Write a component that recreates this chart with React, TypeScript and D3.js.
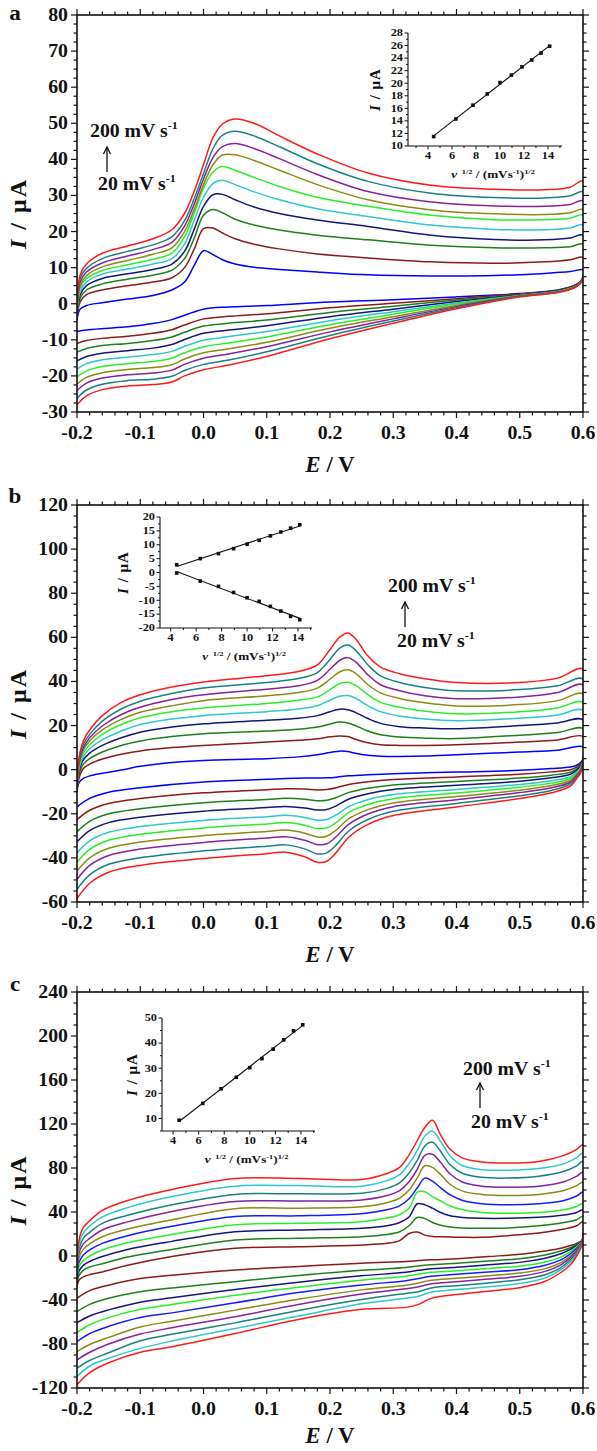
import React from "react";
import * as d3 from "d3";

// ---------- shared tick labels ----------
const X_TICKS = [-0.2, -0.1, 0, 0.1, 0.2, 0.3, 0.4, 0.5, 0.6];
const X_TICK_LABELS = ["-0.2", "-0.1", "0.0", "0.1", "0.2", "0.3", "0.4", "0.5", "0.6"];
const A_Y_TICKS = [-30, -20, -10, 0, 10, 20, 30, 40, 50, 60, 70, 80];
const B_Y_TICKS = [-60, -40, -20, 0, 20, 40, 60, 80, 100, 120];
const C_Y_TICKS = [-120, -80, -40, 0, 40, 80, 120, 160, 200, 240];

// scan-rate colours, 20 -> 200 mV/s
const COLORS_AB = ["#0000ff", "#8b1a1a", "#1f7f1f", "#14147a", "#2ec8c8", "#2aee2a", "#8a8a14", "#86229a", "#1a8080", "#ff1a1a"];
const COLORS_C = ["#8b1a1a", "#1f7f1f", "#14147a", "#2aee2a", "#1a1aff", "#8a8a14", "#86229a", "#1a8080", "#2ec8c8", "#ff1a1a"];

// ---------- panel a ----------
const A_UP_E = [-0.2, -0.195, -0.185, -0.16, -0.12, -0.08, -0.05, -0.03, -0.015, 0.0, 0.015, 0.03, 0.05, 0.08, 0.12, 0.18, 0.26, 0.36, 0.46, 0.54, 0.58, 0.6];
const A_UP = [
  [-4.5, -1.5, -0.5, 0.3, 1.3, 2.3, 3.8, 6, 10.5, 14.7, 13.6, 12.2, 11, 10.1, 9.5, 8.8, 8, 7.7, 7.8, 8.4, 8.9, 9.4],
  [-4.5, 0.5, 2.5, 3.8, 5, 6, 7.2, 10, 15, 20.8, 21, 19.6, 18, 16.5, 15.2, 13.8, 12.7, 11.6, 11.2, 11.6, 12.2, 12.8],
  [-4.5, 1.5, 3.8, 5.5, 6.8, 7.9, 9.3, 12.5, 18, 24.5, 26.1, 25.2, 23.4, 21.8, 20.4, 19, 17.7, 16.2, 15.5, 15.5, 15.8, 16.5],
  [-4.5, 2.5, 5, 7, 8.3, 9.5, 11, 14.5, 20.5, 27, 30.2, 30.3, 28.8, 26.8, 25, 23.2, 21.4, 19, 17.8, 17.7, 18.2, 19],
  [-4, 3.5, 6, 8.2, 9.6, 11, 12.5, 16.5, 23, 29.5, 33.3, 34.2, 33, 31, 28.8, 26.3, 24.2, 21.8, 20.6, 20.5, 21, 21.8],
  [-4, 4.5, 7, 9.2, 10.8, 12.3, 14, 18.5, 25, 32, 36.5, 38, 37, 35, 32.5, 29.5, 27, 24.5, 23.3, 23.3, 23.7, 24.5],
  [-4, 5, 7.8, 10.2, 12, 13.7, 15.5, 20, 26, 33, 38.5, 41.2, 41.3, 39.7, 37, 33, 28.8, 26, 24.9, 24.7, 25.2, 26],
  [-3.5, 6, 8.8, 11.3, 13.2, 15, 17, 21.5, 27.5, 34.5, 40.5, 43.5, 44.4, 43, 40.2, 35.8, 31.1, 28.2, 27.1, 27, 27.5, 28.5],
  [-3.5, 7, 9.8, 12.5, 14.5, 16.3, 18.5, 23, 29, 36, 43, 46.7, 47.8, 46.5, 43.5, 38.8, 33.9, 30.6, 29.4, 29.3, 29.9, 31],
  [-3, 8, 11, 14, 16, 18, 20.5, 25, 31, 38.5, 46, 49.8, 51.2, 50, 46.5, 41.5, 36.2, 32.8, 31.7, 31.6, 32.3, 34],
];
const A_LO_E = [0.6, 0.595, 0.585, 0.56, 0.5, 0.4, 0.3, 0.2, 0.1, 0.04, 0.0, -0.03, -0.05, -0.08, -0.12, -0.16, -0.185, -0.2];
const A_LO = [
  [7.5, 6, 5, 3.8, 2.8, 1.9, 1.1, 0.5, -0.5, -0.9, -1.5, -3.2, -4.4, -5.5, -6.4, -6.9, -7.3, -7.7],
  [7.4, 5.9, 4.9, 3.7, 2.7, 1.4, 0.1, -1.1, -2.8, -3.5, -4.2, -5.9, -7.2, -8.2, -9.0, -9.6, -10.2, -11.0],
  [7.4, 5.9, 4.8, 3.6, 2.5, 1.0, -0.7, -2.4, -4.5, -5.4, -6.2, -7.9, -9.2, -10.2, -11.0, -11.6, -12.4, -13.4],
  [7.3, 5.8, 4.7, 3.5, 2.4, 0.6, -1.5, -3.6, -6.1, -7.3, -8.2, -9.9, -11.3, -12.3, -13.0, -13.7, -14.6, -15.8],
  [7.2, 5.7, 4.6, 3.4, 2.3, 0.2, -2.2, -4.7, -7.7, -9.1, -10.1, -11.8, -13.2, -14.1, -14.8, -15.5, -16.6, -18.1],
  [7.2, 5.7, 4.6, 3.4, 2.2, -0.1, -2.9, -5.8, -9.2, -10.9, -11.9, -13.6, -15.1, -16.0, -16.6, -17.4, -18.6, -20.3],
  [7.1, 5.6, 4.5, 3.3, 2.2, -0.5, -3.6, -6.8, -10.7, -12.5, -13.6, -15.3, -16.9, -17.7, -18.2, -19.1, -20.4, -22.3],
  [7.1, 5.6, 4.4, 3.2, 2.1, -0.8, -4.2, -7.8, -11.9, -13.9, -15.1, -16.8, -18.4, -19.2, -19.7, -20.6, -22.0, -24.1],
  [7.0, 5.5, 4.4, 3.2, 2.0, -1.1, -4.8, -8.8, -13.3, -15.6, -16.8, -18.5, -20.1, -20.9, -21.3, -22.3, -23.9, -26.2],
  [7.0, 5.5, 4.3, 3.1, 1.9, -1.4, -5.4, -9.7, -14.6, -17.0, -18.3, -20.0, -21.7, -22.4, -22.8, -23.8, -25.5, -28.0],
];

// ---------- panel b ----------
const B_UP_E = [-0.2, -0.197, -0.19, -0.18, -0.16, -0.13, -0.1, -0.05, 0, 0.1, 0.15, 0.18, 0.2, 0.215, 0.228, 0.24, 0.26, 0.28, 0.31, 0.35, 0.4, 0.5, 0.56, 0.6];
const B_UP = [
  [-10, -6, -4, -2.8, -1.6, -0.2, 1.5, 3.3, 4.2, 5, 5.8, 6.8, 7.8, 8.4, 8.2, 7.4, 6.5, 6.1, 6, 6.2, 6.8, 8, 8.8, 10.3],
  [-10, -4, 0.5, 2.5, 4.8, 7, 8.5, 10, 11, 12.5, 13.3, 14, 14.9, 15.3, 15, 13.8, 12.2, 11.3, 11, 11, 11.3, 12.5, 13.5, 15],
  [-10, -2.5, 2.5, 5, 8, 11, 13, 15, 16.3, 17.5, 18.3, 19.3, 20.7, 21.6, 21.2, 20, 17.5, 15.8, 14.8, 14.3, 14.1, 15.6, 16.8, 18.6],
  [-10, -1, 4.5, 7.5, 11, 14.5, 17, 19.3, 20.8, 22.4, 23.3, 24.5, 26.3, 27.4, 27.2, 26, 23.2, 21, 19.5, 18.9, 18.6, 20, 21.2, 22.6],
  [-10, 0, 6, 9.5, 13.5, 17.5, 20.5, 23, 24.5, 26.3, 27.5, 29, 31.5, 33.3, 33.6, 32.5, 29, 26.3, 24.3, 23, 22.2, 23.3, 24.8, 26.8],
  [-10, 1, 7.5, 11.3, 16, 20.5, 23.5, 26.3, 28, 30, 31.5, 33, 36.3, 39, 39.6, 38.3, 34, 30.5, 28.3, 26.5, 25.3, 26.3, 28, 30.5],
  [-10, 2, 9, 13, 18, 22.8, 26, 29, 31.3, 33.5, 35, 37, 41, 44.3, 45.3, 43.8, 38.5, 34.8, 32.3, 30.3, 28.9, 29.5, 31.3, 34.3],
  [-10, 3, 10, 14.5, 19.8, 25, 28.3, 31.8, 34, 36.5, 38, 40.5, 45.5, 49.5, 50.8, 49, 43, 38.5, 35.8, 33.5, 32.2, 33, 35, 38.4],
  [-10, 4, 11.5, 16, 22, 27.5, 31, 34.5, 37, 39.5, 41.3, 44, 50, 55, 56.5, 54.3, 47.5, 42.5, 39.5, 37.3, 35.8, 36.3, 38, 41.1],
  [-10, 5, 13, 18, 24.5, 30.5, 34, 37.5, 39.8, 42.6, 44.5, 47.5, 54.5, 60, 62, 59.5, 51.5, 46.5, 43.5, 41.2, 39.5, 39.5, 41.5, 45.6],
];
const B_LO_E = [0.6, 0.597, 0.59, 0.58, 0.55, 0.5, 0.4, 0.3, 0.26, 0.23, 0.21, 0.195, 0.18, 0.16, 0.13, 0.1, 0.0, -0.1, -0.15, -0.18, -0.2];
const B_LO = [
  [5, 3.5, 2, 1.2, 0.5, -0.3, -1.1, -1.8, -2.3, -2.8, -3.4, -3.7, -3.8, -3.8, -4, -4.4, -5.6, -8.2, -10.2, -13, -16.9],
  [4.7, 2.9, 1.2, 0, -1, -2.1, -3.3, -4.5, -5.5, -6.7, -8.2, -9, -9.2, -8.8, -8.7, -9.1, -10.5, -13.1, -15.3, -18.4, -22.7],
  [4.5, 2.3, 0.4, -1.2, -2.5, -3.8, -5.4, -6.9, -8.4, -10.3, -12.6, -13.9, -14.1, -13.4, -13, -13.5, -15, -17.7, -20, -23.4, -28.1],
  [4.2, 1.8, -0.3, -2.1, -3.7, -5.2, -7.1, -9, -10.9, -13.3, -16.4, -18.1, -18.3, -17.4, -16.7, -17.2, -18.8, -21.6, -24, -27.6, -32.7],
  [4, 1.3, -1, -3.2, -5, -6.7, -9, -11.3, -13.6, -16.7, -20.5, -22.6, -22.9, -21.7, -20.7, -21.3, -23, -25.8, -28.4, -32.3, -37.7],
  [3.8, 0.8, -1.6, -4, -6.1, -8, -10.6, -13.2, -15.8, -19.4, -23.9, -26.4, -26.7, -25.2, -24, -24.6, -26.4, -29.3, -32, -36.1, -41.9],
  [3.6, 0.4, -2.2, -4.9, -7.2, -9.3, -12.2, -15.1, -18.1, -22.2, -27.3, -30.2, -30.5, -28.8, -27.4, -28, -29.9, -32.8, -35.6, -40, -46],
  [3.4, 0, -2.7, -5.7, -8.2, -10.4, -13.6, -16.8, -20.1, -24.7, -30.3, -33.6, -34, -32, -30.4, -31, -33, -36, -38.9, -43.4, -49.8],
  [3.2, -0.6, -3.4, -6.6, -9.4, -11.8, -15.3, -18.9, -22.6, -27.7, -34.1, -37.7, -38.2, -35.9, -34.1, -34.7, -36.8, -39.9, -42.9, -47.7, -54.3],
  [3, -1, -4, -7.5, -10.5, -13.1, -16.9, -20.8, -24.8, -30.5, -37.5, -41.5, -42, -39.5, -37.4, -38.1, -40.3, -43.4, -46.5, -51.5, -58.5],
];

// ---------- panel c ----------
const C_UP_E = [-0.2, -0.197, -0.19, -0.18, -0.16, -0.12, -0.05, 0.05, 0.15, 0.25, 0.29, 0.31, 0.325, 0.338, 0.35, 0.362, 0.375, 0.39, 0.41, 0.44, 0.48, 0.53, 0.57, 0.59, 0.6];
const C_UP = [
  [-28, -22, -19, -17, -14.5, -8.5, -0.5, 7, 8.5, 10, 11.5, 14, 20.5, 21.8, 19, 17.8, 17.5, 17.2, 17, 17, 18.5, 21, 24.5, 27.5, 31],
  [-26, -18, -13, -10, -7, -1, 6, 14.5, 16.1, 17.5, 19.5, 22, 27.5, 35, 34, 30.5, 28, 26.3, 25.5, 25.2, 25.5, 27.5, 30.5, 33, 36],
  [-24, -14, -8.5, -5, -0.5, 6, 13.3, 22, 23.6, 25.2, 27.5, 30.5, 35.5, 47.5, 46.5, 43.5, 39.5, 36.5, 35, 34.3, 34.3, 35.2, 37.2, 39.5, 42],
  [-22, -10, -4, 0, 5.5, 12, 19.5, 28.5, 29.7, 31.2, 34.5, 37.5, 43.5, 58, 58.5, 54, 50, 45.5, 42, 39.5, 38.8, 39.5, 42, 45, 47.5],
  [-20, -6, 1, 5.5, 11.5, 18.5, 27, 36, 36.5, 38.5, 42, 45.5, 52, 62, 70.8, 68, 62, 55.5, 50.5, 47.5, 46.5, 47.5, 50.5, 54.5, 58],
  [-18, -2, 6, 11, 17.5, 24.5, 33, 43, 43.5, 44.8, 48.5, 52.5, 60, 71, 82, 80.5, 74, 65, 59, 56, 55, 56, 59.5, 64, 67],
  [-16, 2, 11, 16, 23.6, 31, 40.5, 49.5, 50, 51, 55, 59.5, 67.5, 79, 91.5, 92.5, 85, 74.5, 67, 63.5, 62.5, 63.5, 67.5, 72.5, 76],
  [-14, 6, 16, 21.5, 29.7, 37, 46.5, 56, 56.5, 57, 61.5, 66.5, 75.5, 87, 100, 103.5, 95, 83, 75, 71.5, 70.8, 72.5, 77, 82, 86],
  [-12, 10, 21, 27, 35.5, 44, 54, 63.5, 64, 63.5, 68.5, 74, 84, 96, 109, 113.5, 104, 91, 82, 78.5, 78, 79.5, 84, 89.5, 93.5],
  [-10, 14, 26, 32, 41.5, 50.5, 60.5, 70.5, 70.5, 69.5, 75, 80.5, 92, 105, 117, 123.5, 110, 97, 89, 85.5, 84.5, 86, 91.5, 97, 101],
];
const C_LO_E = [0.6, 0.597, 0.59, 0.58, 0.565, 0.54, 0.5, 0.45, 0.4, 0.36, 0.34, 0.32, 0.25, 0.15, 0.05, -0.05, -0.1, -0.15, -0.18, -0.2];
const C_LO = [
  [15, 13.5, 11.5, 9.5, 7, 4.5, 1.5, -0.5, -2.5, -3.5, -4.2, -5, -6.5, -9.5, -12.8, -17.5, -20.5, -26.5, -31.5, -38.4],
  [15.5, 13, 10.5, 7.5, 4.5, 1, -2.5, -4.5, -6.7, -8, -9, -10.5, -13, -17.8, -23.3, -29, -32.5, -38.5, -44, -50.6],
  [16, 13, 9.5, 6, 2, -2, -5.8, -8, -10.3, -11.5, -13, -14.8, -18, -23.8, -30.5, -38, -42, -49, -54.5, -60.6],
  [16, 12.5, 8.5, 4, -1, -5.5, -9.3, -11.3, -13.5, -14.8, -16.5, -18.5, -22, -28.4, -35.6, -44, -48.5, -56, -62.5, -69.7],
  [16.5, 12, 7, 2, -3.5, -8.5, -12.5, -14.5, -16.7, -18.5, -20.5, -22.5, -26.3, -33.2, -42.6, -51.7, -56, -64, -70.5, -77.8],
  [17, 11.5, 5.5, 0, -6, -11.5, -15.5, -18, -20.3, -22, -24.5, -26.5, -30.8, -39.3, -49.2, -59.3, -64.5, -74, -80.5, -87],
  [17, 11, 4.5, -1.5, -8, -14, -18.5, -21, -23.5, -25.3, -28, -29.8, -34.5, -44, -55.3, -65.2, -71, -80, -87.5, -94.5],
  [17, 10, 3, -3.5, -10.5, -17, -21.5, -24.5, -27, -29, -32.5, -34, -39.5, -49.5, -60.8, -71.2, -77, -88, -95, -102],
  [17, 9, 1.5, -5.5, -12.5, -20, -25, -28, -30.5, -33, -36.5, -38.5, -43.5, -54.6, -66, -77.3, -84, -93, -100, -109.7],
  [17, 8, 0, -8, -15, -23, -28.8, -32, -35, -38.5, -44, -46.7, -48.5, -57.7, -70.5, -82.5, -87.5, -97, -106, -117],
];

// ---------- insets: peak current vs sqrt(scan rate) ----------
const INSET_X = [4.47, 6.32, 7.75, 8.94, 10.0, 10.95, 11.83, 12.65, 13.42, 14.14];
const INSET_X_TICKS = [4, 6, 8, 10, 12, 14];
const INSET_A_Y = [11.5, 14.3, 16.5, 18.3, 20.1, 21.3, 22.6, 23.7, 24.8, 25.9];
const INSET_A_TICKS = [10, 12, 14, 16, 18, 20, 22, 24, 26, 28];
const INSET_B_OX = [2.8, 5.0, 6.8, 8.6, 10.2, 11.6, 13.2, 14.6, 16.0, 17.2];
const INSET_B_RED = [-0.2, -3.1, -5.0, -7.2, -9.1, -10.4, -12.2, -13.9, -15.8, -17.0];
const INSET_B_TICKS = [-20, -15, -10, -5, 0, 5, 10, 15, 20];
const INSET_C_Y = [9.3, 16.0, 21.8, 26.4, 30.2, 33.8, 37.6, 41.3, 44.9, 47.3];
const INSET_C_TICKS = [10, 20, 30, 40, 50];

const FONT = '"Liberation Serif", "Times New Roman", Times, serif';
const PL = 77;
const PR = 583;

function SText(props: any) {
  const { x, y, size, anchor = "middle", sx = 1.1, children, ls = 0 } = props;
  return (
    <text transform={`translate(${x},${y}) scale(${sx},1)`} fontSize={size} textAnchor={anchor} fontWeight="bold" fontFamily={FONT} letterSpacing={ls} fill="#111">
      {children}
    </text>
  );
}

function fit(xs: number[], ys: number[]) {
  const mx = d3.mean(xs) as number;
  const my = d3.mean(ys) as number;
  let num = 0, den = 0;
  xs.forEach((x, i) => { num += (x - mx) * (ys[i] - my); den += (x - mx) * (x - mx); });
  const k = num / den;
  return (x: number) => my + k * (x - mx);
}

function Inset(props: any) {
  const { x0, x1, y0, y1, xDomain, yDomain, yTicks, yMinor, series, ylabX } = props;
  const sx = d3.scaleLinear().domain(xDomain).range([x0, x1]);
  const sy = d3.scaleLinear().domain(yDomain).range([y1, y0]);
  const xMinor = d3.range(3, 15.01, 1).filter((v) => v >= xDomain[0] && v <= xDomain[1]);
  const yMin = d3.range(yDomain[0], yDomain[1] + 1e-6, yMinor);
  return (
    <g>
      <line x1={x0} x2={x0} y1={sy(yDomain[1])} y2={y1} stroke="#111" strokeWidth={1.1} />
      <line x1={x0} x2={x1} y1={y1} y2={y1} stroke="#111" strokeWidth={1.1} />
      {xMinor.map((v) => (
        <line key={"xm" + v} x1={sx(v)} x2={sx(v)} y1={y1} y2={y1 + (INSET_X_TICKS.includes(v) ? 3.5 : 2)} stroke="#111" strokeWidth={1} />
      ))}
      {yMin.map((v) => (
        <line key={"ym" + v} x1={x0} x2={x0 - (yTicks.includes(v) ? 3.5 : 2)} y1={sy(v)} y2={sy(v)} stroke="#111" strokeWidth={1} />
      ))}
      {INSET_X_TICKS.map((v) => (
        <SText key={"xl" + v} x={sx(v)} y={y1 + 13} size={9.5} sx={1.3}>{v}</SText>
      ))}
      {yTicks.map((v: number) => (
        <SText key={"yl" + v} x={x0 - 5} y={sy(v) + 3.3} size={9.5} sx={1.3} anchor="end">{v}</SText>
      ))}
      {series.map((ys: number[], si: number) => {
        const f = fit(INSET_X, ys);
        const xa = INSET_X[0], xb = INSET_X[INSET_X.length - 1];
        return (
          <g key={"s" + si}>
            <line x1={sx(xa)} y1={sy(f(xa))} x2={sx(xb)} y2={sy(f(xb))} stroke="#111" strokeWidth={1.1} />
            {ys.map((v, i) => (
              <rect key={i} x={sx(INSET_X[i]) - 1.8} y={sy(v) - 1.8} width={3.6} height={3.6} fill="#111" />
            ))}
          </g>
        );
      })}
      <text transform={`translate(${ylabX},${(y0 + y1) / 2}) rotate(-90)`} fontSize={15} textAnchor="middle" fontWeight="bold" fontFamily={FONT} letterSpacing={1} fill="#111">
        <tspan fontStyle="italic">I</tspan> / μA
      </text>
      <text transform={`translate(${(x0 + x1) / 2 + 8},${y1 + 32}) scale(1.2,1)`} fontSize={11} textAnchor="middle" fontWeight="bold" fontFamily={FONT} fill="#111">
        <tspan fontStyle="italic">v</tspan>
        <tspan fontSize={7} dy={-4} dx={4}>1/2</tspan>
        <tspan dy={4}> / (mVs</tspan>
        <tspan fontSize={7} dy={-4}>-1</tspan>
        <tspan dy={4}>)</tspan>
        <tspan fontSize={7} dy={-4}>1/2</tspan>
      </text>
    </g>
  );
}

function Panel(props: any) {
  const { id, top, height, yDomain, yTicks, yMinorStep, upE, up, loE, lo, colors, letter, letterY, xlabY, note, inset } = props;
  const bottom = top + height;
  const x = d3.scaleLinear().domain([-0.2, 0.6]).range([PL, PR]);
  const y = d3.scaleLinear().domain(yDomain).range([bottom, top]);
  const line = d3
    .line<[number, number]>()
    .x((d) => x(d[0]))
    .y((d) => y(d[1]))
    .curve(d3.curveCatmullRom.alpha(0.5));
  const xMinor = d3.range(-0.2, 0.6001, 0.02);
  const yMinor = d3.range(yDomain[0], yDomain[1] + 1e-6, yMinorStep);
  const tk = "#111";
  return (
    <g>
      <defs>
        <clipPath id={"clip" + id}>
          <rect x={PL} y={top} width={PR - PL} height={height} />
        </clipPath>
      </defs>
      <g clipPath={`url(#clip${id})`}>
        {up.map((u: number[], i: number) => {
          const pts: [number, number][] = upE.map((e: number, j: number) => [e, u[j]] as [number, number]).concat(
            loE.map((e: number, j: number) => [e, lo[i][j]] as [number, number])
          );
          return <path key={i} d={line(pts) as string} fill="none" stroke={colors[i]} strokeWidth={1.5} strokeLinejoin="round" />;
        })}
      </g>
      <rect x={PL} y={top} width={PR - PL} height={height} fill="none" stroke={tk} strokeWidth={1.6} />
      {xMinor.map((v, i) => {
        const major = i % 5 === 0;
        const L = major ? 6 : 3.5;
        const xx = x(v);
        return (
          <g key={"xt" + i}>
            <line x1={xx} x2={xx} y1={bottom} y2={bottom + L} stroke={tk} strokeWidth={1.2} />
            <line x1={xx} x2={xx} y1={top} y2={top - L} stroke={tk} strokeWidth={1.2} />
          </g>
        );
      })}
      {yMinor.map((v, i) => {
        const major = yTicks.some((t: number) => Math.abs(t - v) < 1e-6);
        const L = major ? 6 : 3.5;
        const yy = y(v);
        return (
          <g key={"yt" + i}>
            <line x1={PL} x2={PL - L} y1={yy} y2={yy} stroke={tk} strokeWidth={1.2} />
            <line x1={PR} x2={PR + L} y1={yy} y2={yy} stroke={tk} strokeWidth={1.2} />
          </g>
        );
      })}
      {X_TICKS.map((v, i) => (
        <SText key={"xl" + i} x={x(v)} y={bottom + 27} size={18}>{X_TICK_LABELS[i]}</SText>
      ))}
      {yTicks.map((v: number) => (
        <SText key={"yl" + v} x={PL - 9} y={y(v) + 6} size={18} anchor="end">{v}</SText>
      ))}
      <text transform={`translate(${(PL + PR) / 2},${xlabY})`} fontSize={23} textAnchor="middle" fontWeight="bold" fontFamily={FONT} fill="#111">
        <tspan fontStyle="italic">E</tspan> / V
      </text>
      <text transform={`translate(26,${(top + bottom) / 2}) rotate(-90)`} fontSize={24} textAnchor="middle" fontWeight="bold" fontFamily={FONT} letterSpacing={2} fill="#111">
        <tspan fontStyle="italic">I</tspan> / μA
      </text>
      <SText x={15} y={letterY} size={22} sx={1.05}>{letter}</SText>
      <SText x={note.x1} y={note.y1} size={18} anchor="start">
        200 mV s<tspan fontSize={11} dy={-8}>-1</tspan>
      </SText>
      <line x1={note.ax} x2={note.ax} y1={note.ay2} y2={note.ay1} stroke="#111" strokeWidth={1.3} />
      <path d={`M${note.ax - 3.5},${note.ay1 + 7} L${note.ax},${note.ay1} L${note.ax + 3.5},${note.ay1 + 7}`} fill="none" stroke="#111" strokeWidth={1.3} />
      <SText x={note.x2} y={note.y2} size={18} anchor="start">
        20 mV s<tspan fontSize={11} dy={-8}>-1</tspan>
      </SText>
      <Inset {...inset} />
    </g>
  );
}

export default function App() {
  return (
    <div style={{ position: "absolute", left: 0, top: 0, background: "#fff" }}>
      <svg width={597} height={1451} style={{ display: "block", background: "#fff" }}>
        <Panel
          id="a"
          top={15}
          height={397}
          yDomain={[-30, 80]}
          yTicks={A_Y_TICKS}
          yMinorStep={2.5}
          upE={A_UP_E}
          up={A_UP}
          loE={A_LO_E}
          lo={A_LO}
          colors={COLORS_AB}
          letter="a"
          letterY={20}
          xlabY={472}
          note={{ x1: 90, y1: 137, ax: 107, ay1: 147, ay2: 172, x2: 98, y2: 190 }}
          inset={{ x0: 408, x1: 562, y0: 33, y1: 146, xDomain: [2.33, 15.17], yDomain: [10, 28], yTicks: INSET_A_TICKS, yMinor: 1, series: [INSET_A_Y], ylabX: 380 }}
        />
        <Panel
          id="b"
          top={505}
          height={397}
          yDomain={[-60, 120]}
          yTicks={B_Y_TICKS}
          yMinorStep={5}
          upE={B_UP_E}
          up={B_UP}
          loE={B_LO_E}
          lo={B_LO}
          colors={COLORS_AB}
          letter="b"
          letterY={503}
          xlabY={962}
          note={{ x1: 388, y1: 592, ax: 405, ay1: 602, ay2: 627, x2: 397, y2: 647 }}
          inset={{ x0: 160, x1: 312, y0: 517, y1: 628, xDomain: [3.16, 15.1], yDomain: [-20, 20], yTicks: INSET_B_TICKS, yMinor: 2.5, series: [INSET_B_OX, INSET_B_RED], ylabX: 128 }}
        />
        <Panel
          id="c"
          top={992}
          height={396}
          yDomain={[-120, 240]}
          yTicks={C_Y_TICKS}
          yMinorStep={10}
          upE={C_UP_E}
          up={C_UP}
          loE={C_LO_E}
          lo={C_LO}
          colors={COLORS_C}
          letter="c"
          letterY={991}
          xlabY={1443}
          note={{ x1: 463, y1: 1075, ax: 480, ay1: 1083, ay2: 1108, x2: 471, y2: 1128 }}
          inset={{ x0: 162, x1: 315, y0: 1018, y1: 1131, xDomain: [3.13, 15.1], yDomain: [5, 50], yTicks: INSET_C_TICKS, yMinor: 5, series: [INSET_C_Y], ylabX: 137 }}
        />
      </svg>
    </div>
  );
}
